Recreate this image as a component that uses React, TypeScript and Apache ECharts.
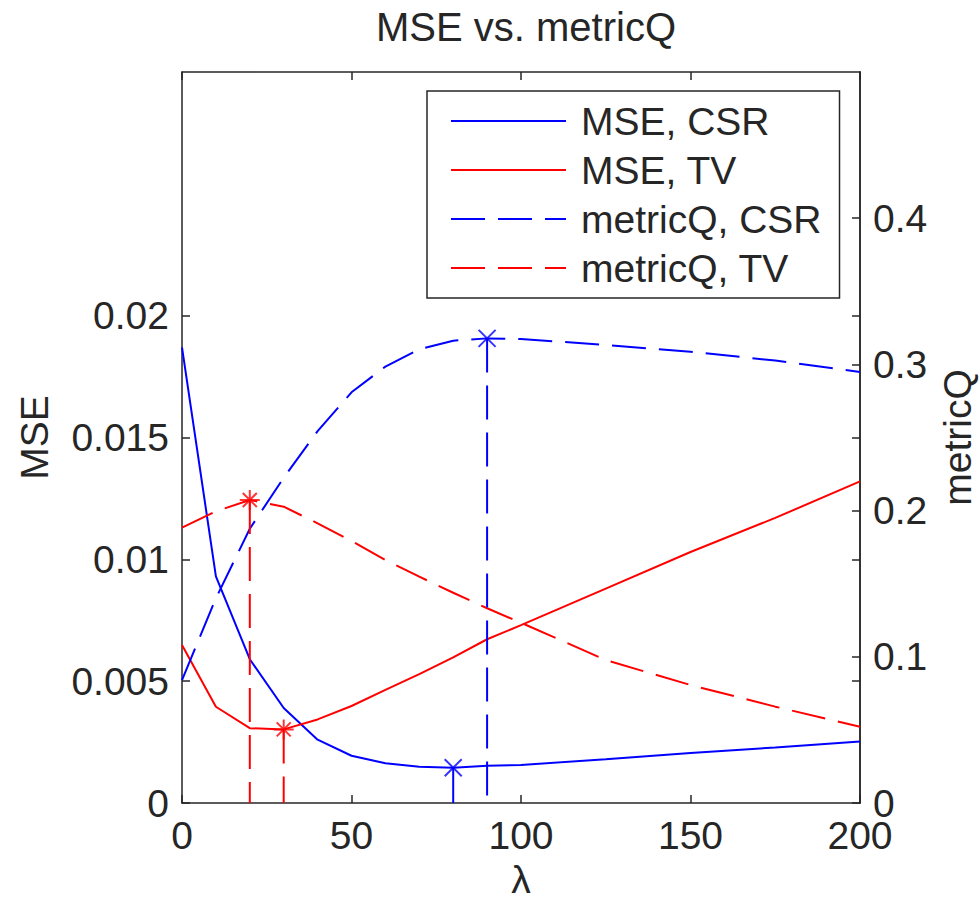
import React, { useEffect, useRef } from 'react';
import * as echarts from 'echarts';

// ---- data ----
const lambda = [0, 10, 20, 30, 40, 50, 60, 70, 80, 90, 100, 125, 150, 175, 200];
const mseCSR = [0.0187, 0.0093, 0.0059, 0.0039, 0.0026, 0.00194, 0.00163, 0.00149, 0.00145, 0.00153, 0.00156, 0.0018, 0.00205, 0.00228, 0.00252];
const mseTV = [0.00648, 0.00395, 0.00307, 0.00302, 0.00343, 0.00398, 0.00464, 0.00529, 0.00598, 0.00672, 0.0073, 0.0088, 0.0103, 0.0117, 0.0132];
const metricQCSR = [0.0841, 0.14, 0.1876, 0.2225, 0.2544, 0.2809, 0.2985, 0.3103, 0.3162, 0.3178, 0.3174, 0.3133, 0.3087, 0.3026, 0.2948];
const metricQTV = [0.1883, 0.1995, 0.2073, 0.2027, 0.1913, 0.1792, 0.1662, 0.1548, 0.1438, 0.1332, 0.1233, 0.0978, 0.0807, 0.0659, 0.0522];

const xTicks = [0, 50, 100, 150, 200];
const mseTicks = [0, 0.005, 0.01, 0.015, 0.02];
const mseMirrorTicks = [0.005, 0.01, 0.015, 0.02];
const metricQTicks = [0, 0.1, 0.2, 0.3, 0.4];

const seriesNames = ['MSE, CSR', 'MSE, TV', 'metricQ, CSR', 'metricQ, TV'];

const FONT = "'Liberation Sans', Arial, Helvetica, sans-serif";
const TXT = '#262626';
const BLUE = '#0000ff';
const RED = '#ff0000';
const DASH = [34, 13];
const FS = 39;

const X_PATH = 'path://M0,0L10,10M10,0L0,10';
const STAR_PATH = 'path://M0,5L10,5M5,0L5,10M1.5,1.5L8.5,8.5M8.5,1.5L1.5,8.5';

const argMin = (a: number[]) => a.reduce((bi, v, i) => (v < a[bi] ? i : bi), 0);
const argMax = (a: number[]) => a.reduce((bi, v, i) => (v > a[bi] ? i : bi), 0);
const pairs = (ys: number[]) => lambda.map((x, i) => [x, ys[i]]);

export default function App() {
  const ref = useRef<HTMLDivElement>(null);

  useEffect(() => {
    if (!ref.current) return;
    const chart = echarts.init(ref.current, undefined, { renderer: 'svg' });

    const iMinCSR = argMin(mseCSR);
    const iMinTV = argMin(mseTV);
    const iMaxQCSR = argMax(metricQCSR);
    const iMaxQTV = argMax(metricQTV);

    const axisLine = { show: true, onZero: false, lineStyle: { color: TXT, width: 1.5 } };
    const tick = { show: true, inside: true, length: 8, lineStyle: { color: TXT, width: 1.5 } };
    const label = { fontSize: FS, color: TXT, fontFamily: FONT };

    const mainLine = (name: string, ys: number[], color: string, dashed: boolean, yAxisIndex: number) => ({
      type: 'line',
      name,
      data: pairs(ys),
      yAxisIndex,
      symbol: 'none',
      itemStyle: { color },
      lineStyle: { color, width: 2, type: dashed ? DASH : 'solid' },
      z: 3,
    });

    const drop = (x: number, y: number, color: string, dashed: boolean, yAxisIndex: number) => ({
      type: 'line',
      data: [[x, y], [x, 0]],
      yAxisIndex,
      symbol: 'none',
      lineStyle: { color, width: 2, type: dashed ? DASH : 'solid' },
      z: 3,
    });

    const marker = (x: number, y: number, color: string, path: string, size: number, yAxisIndex: number) => ({
      type: 'scatter',
      data: [[x, y]],
      yAxisIndex,
      symbol: path,
      symbolSize: size,
      itemStyle: { color: 'none', borderColor: color, borderWidth: 2 },
      z: 4,
    });

    chart.setOption({
      animation: false,
      title: {
        text: 'MSE vs. metricQ',
        left: 521,
        top: 2,
        textAlign: 'center',
        textStyle: { fontSize: 40, fontWeight: 'normal', color: TXT, fontFamily: FONT },
      },
      legend: {
        orient: 'vertical',
        left: 427,
        top: 91,
        padding: [10, 18, 10, 23],
        itemGap: 9,
        itemWidth: 115,
        itemHeight: 1,
        borderColor: TXT,
        borderWidth: 1.5,
        backgroundColor: '#ffffff',
        selectedMode: false,
        data: seriesNames,
        textStyle: { fontSize: FS, color: TXT, fontFamily: FONT, lineHeight: 40, padding: [0, 0, 0, 10] },
      },
      grid: { left: 182, right: 120, top: 72, bottom: 99, containLabel: false, outerBoundsMode: 'none' },
      xAxis: [
        {
          type: 'value',
          position: 'bottom',
          min: 0,
          max: 200,
          interval: 50,
          axisLine,
          axisTick: { ...tick, customValues: xTicks },
          axisLabel: { ...label, margin: 13, customValues: xTicks },
          splitLine: { show: false },
          name: 'λ',
          nameLocation: 'middle',
          nameGap: 55,
          nameTextStyle: label,
        },
        {
          type: 'value',
          position: 'top',
          min: 0,
          max: 200,
          interval: 50,
          axisLine,
          axisTick: { ...tick, customValues: xTicks },
          axisLabel: { show: false },
          splitLine: { show: false },
        },
      ],
      yAxis: [
        {
          type: 'value',
          position: 'left',
          min: 0,
          max: 0.03,
          interval: 0.005,
          axisLine,
          axisTick: { ...tick, customValues: mseTicks },
          axisLabel: { ...label, margin: 13, customValues: mseTicks },
          splitLine: { show: false },
          name: 'MSE',
          nameLocation: 'middle',
          nameRotate: 90,
          nameGap: 128,
          nameTextStyle: label,
        },
        {
          type: 'value',
          position: 'right',
          min: 0,
          max: 0.5,
          interval: 0.1,
          axisLine,
          axisTick: { ...tick, customValues: metricQTicks },
          axisLabel: { ...label, margin: 13, customValues: metricQTicks },
          splitLine: { show: false },
          name: 'metricQ',
          nameLocation: 'middle',
          nameRotate: 90,
          nameGap: 76,
          nameTextStyle: label,
        },
        {
          type: 'value',
          position: 'right',
          min: 0,
          max: 0.03,
          interval: 0.005,
          axisLine,
          axisTick: { ...tick, customValues: mseMirrorTicks },
          axisLabel: { show: false },
          splitLine: { show: false },
        },
      ],
      series: [
        mainLine(seriesNames[0], mseCSR, BLUE, false, 0),
        mainLine(seriesNames[1], mseTV, RED, false, 0),
        mainLine(seriesNames[2], metricQCSR, BLUE, true, 1),
        mainLine(seriesNames[3], metricQTV, RED, true, 1),
        drop(lambda[iMinCSR], mseCSR[iMinCSR], BLUE, false, 0),
        drop(lambda[iMinTV], mseTV[iMinTV], RED, true, 0),
        drop(lambda[iMaxQCSR], metricQCSR[iMaxQCSR], BLUE, true, 1),
        drop(lambda[iMaxQTV], metricQTV[iMaxQTV], RED, true, 1),
        marker(lambda[iMinCSR], mseCSR[iMinCSR], BLUE, X_PATH, 17, 0),
        marker(lambda[iMinTV], mseTV[iMinTV], RED, STAR_PATH, 20, 0),
        marker(lambda[iMaxQCSR], metricQCSR[iMaxQCSR], BLUE, X_PATH, 17, 1),
        marker(lambda[iMaxQTV], metricQTV[iMaxQTV], RED, STAR_PATH, 20, 1),
      ],
    });

    return () => chart.dispose();
  }, []);

  return (
    <div
      ref={ref}
      style={{ position: 'fixed', left: 0, top: 0, width: 980, height: 902, background: '#ffffff' }}
    />
  );
}
